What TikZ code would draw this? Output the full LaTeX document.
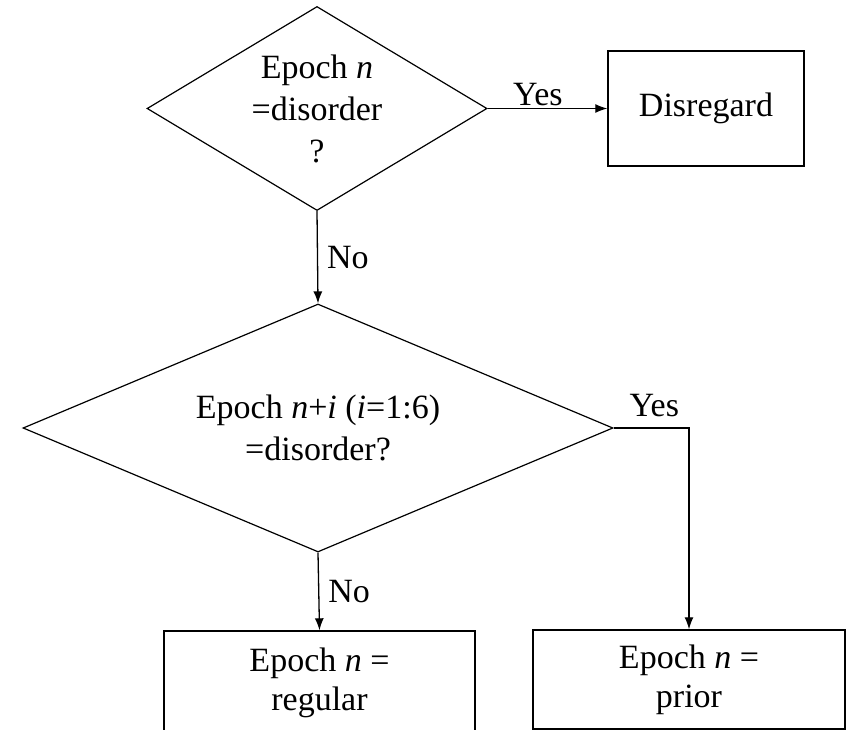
\documentclass[tikz,border=0pt]{standalone}
\usepackage{fontspec}
\setmainfont{Liberation Serif}
\usepackage{xcolor}
\usepackage{tikz}
\usetikzlibrary{shapes.geometric,arrows.meta}
\definecolor{bg}{HTML}{FFFFFF}
\definecolor{ink}{HTML}{000000}
\tikzset{
  lab/.style={text=ink, font=\fontsize{34pt}{42pt}\selectfont},
  box/.style={lab, draw=ink, line width=1.4pt, rectangle, inner sep=0pt, align=center},
  decision/.style={lab, draw=ink, line width=1.2pt, diamond, inner sep=0pt, aspect=1.6, align=center},
  flow/.style={draw=ink, line width=1.3pt, -{Latex[length=12pt,width=9pt]}}
}
\begin{document}
\begin{tikzpicture}[x=1pt,y=-1pt]
  \useasboundingbox[fill=bg] (0,0) rectangle (851,730);
  % decisions
  \node[decision, minimum width=340pt, minimum height=204pt] (ask1) at (317,108.5)
    {Epoch \textit{n}\\=disorder\\?};
  \node[decision, minimum width=590pt, minimum height=248pt] (ask2) at (318,428)
    {Epoch \textit{n}+\textit{i} (\textit{i}=1:6)\\=disorder?};
  % outcomes
  \node[box, minimum width=196pt, minimum height=115pt] (drop) at (706,108.5) {Disregard};
  \node[box, minimum width=311pt, minimum height=103pt] (regular) at (319.5,682.5)
    {\raisebox{-3pt}{Epoch \textit{n} =}\\regular};
  \node[box, minimum width=312pt, minimum height=99pt] (prior) at (689,679.5)
    {\raisebox{-3pt}{Epoch \textit{n} =}\\prior};
  % connectors
  \draw[flow] (ask1.east) -- node[lab, above, pos=0.42, inner sep=2pt] {Yes} (drop.west);
  \draw[flow] (ask1.south) -- node[lab, right, inner sep=9pt] {No} (ask2.north);
  \draw[flow] (ask2.east) -| node[lab, above, pos=0.27, inner sep=2pt, yshift=9pt] {Yes} (prior.north);
  \draw[flow] (ask2.south) -- node[lab, right, inner sep=9pt] {No} (regular.north);
\end{tikzpicture}
\end{document}
